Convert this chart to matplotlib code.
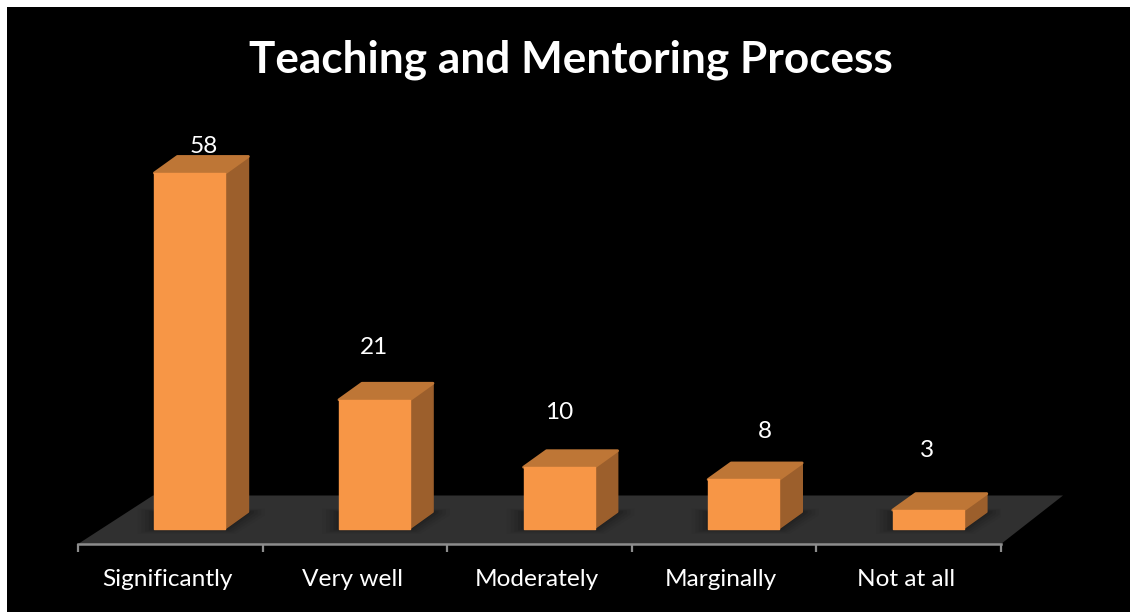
import numpy as np
import matplotlib
matplotlib.use("Agg")
import matplotlib.pyplot as plt
from matplotlib.patches import Polygon

plt.rcParams['font.family'] = ['Lato', 'DejaVu Sans']

categories = ["Significantly", "Very well", "Moderately", "Marginally", "Not at all"]
values = [58, 21, 10, 8, 3]
# value labels are hand placed in the original, not tied to the bar tops
label_gap = [4.3, 8.45, 8.95, 7.8, 9.75]
label_shift = [0.076, -0.004, -0.002, 0.114, -0.008]

W, H = 1130, 612
FRONT = "#F79646"
SIDE = "#9C5F2C"
TOP = "#BE7636"
FLOOR = "#303030"

fig = plt.figure(figsize=(W / 100, H / 100), dpi=100, facecolor="white")

# black panel
bg = fig.add_axes([7 / W, 0, 1 - 7 / W, 1 - 7 / H])
bg.set_facecolor("black")
bg.set_xticks([])
bg.set_yticks([])
for s in bg.spines.values():
    s.set_visible(False)

# axes runs from tick to tick, y=0 is where the bars stand
left, right, bottom, top = 78, 1001, 544, 100
ax = fig.add_axes([left / W, 1 - bottom / H, (right - left) / W, (bottom - top) / H])
ax.patch.set_alpha(0)
ax.set_xlim(-0.5, 4.5)
per_unit = 6.13
ax.set_ylim(-(bottom - 528.5) / per_unit, (528.5 - top) / per_unit)
for name in ["top", "left", "right"]:
    ax.spines[name].set_visible(False)
ax.spines["bottom"].set_color("#8C8C8C")
ax.spines["bottom"].set_linewidth(1.8)
ax.spines["bottom"].set_zorder(3)
ax.yaxis.set_visible(False)

ax.set_xticks(np.arange(-0.5, 5))
ax.set_xticklabels([])
ax.set_xticks(np.arange(5) - 0.015, labels=categories, minor=True)
ax.tick_params(axis="x", which="major", length=6, width=1.6, color="#8C8C8C", direction="out")
ax.tick_params(axis="x", which="minor", length=0, pad=18, labelsize=17.6, labelcolor="white")

# floor
y0 = ax.get_ylim()[0]
back = 33 / per_unit
floor = Polygon([(-0.5, y0), (4.5, y0), (4.836, back), (-0.094, back)],
                closed=True, fc=FLOOR, ec="none", zorder=1, clip_on=False)
ax.add_patch(floor)

bar_w = 71 / 184.6
shift = 0.106
dx = 23 / 184.6
dy = 16.5 / per_unit

for i, v in enumerate(values):
    x0 = i + shift - bar_w / 2
    x1 = x0 + bar_w

    # soft shadow on the floor
    for grow, a in [(0.09, 0.06), (0.07, 0.08), (0.05, 0.10), (0.03, 0.14), (0.012, 0.2)]:
        ax.add_patch(Polygon([(x0 - grow, -grow * 10), (x1 + grow * 0.6, -grow * 10),
                              (x1 + dx + grow, dy - grow * 6), (x1 + dx + grow, dy + grow * 6),
                              (x0 - grow, dy + grow * 6)],
                             closed=True, fc="#101010", ec="none", alpha=a, zorder=1.5))

    ax.add_patch(Polygon([(x1, 0), (x1 + dx, dy), (x1 + dx, v + dy), (x1, v)],
                         closed=True, fc=SIDE, ec=SIDE, lw=1.2, joinstyle="round", zorder=2))
    ax.add_patch(Polygon([(x0, v), (x1, v), (x1 + dx, v + dy), (x0 + dx, v + dy)],
                         closed=True, fc=TOP, ec=TOP, lw=2, joinstyle="round", zorder=2))
    ax.bar(x0 + bar_w / 2, v, width=bar_w, color=FRONT, edgecolor=FRONT, linewidth=1.0,
           joinstyle="round", zorder=2.5)

    ax.text(x0 + bar_w / 2 + label_shift[i], v + label_gap[i], str(v), ha="center", va="center",
            color="white", fontsize=17.6, zorder=4, clip_on=False)

fig.text(571 / W, 1 - 60 / H, "Teaching and Mentoring Process", ha="center", va="center",
         color="white", fontsize=31.8, fontweight="bold")

fig.savefig("out.png", dpi=100, facecolor=fig.get_facecolor())
